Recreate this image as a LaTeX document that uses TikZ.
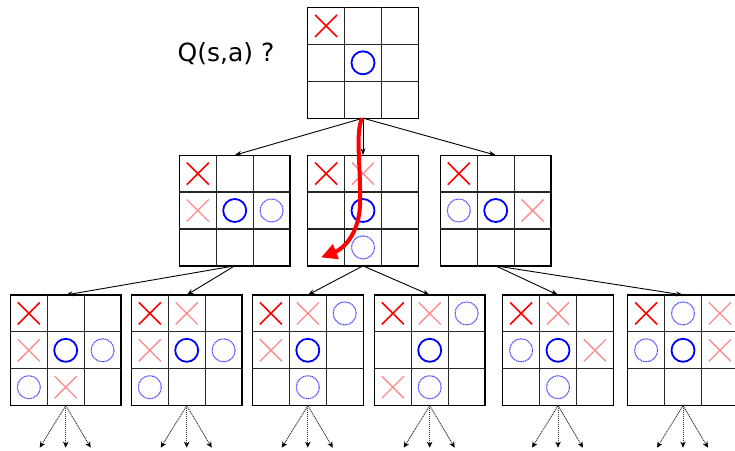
\documentclass[tikz,border=0pt]{standalone}
\usepackage{fontspec}
\setmainfont{DejaVu Sans}
\usetikzlibrary{arrows.meta,calc}
\newcommand\tttboard[3]{%
  \node[board] (#1) at (#2,#3) {};
  \draw[gridline] ($(#1.north west)!1/3!(#1.north east)$) -- ($(#1.south west)!1/3!(#1.south east)$)
                  ($(#1.north west)!2/3!(#1.north east)$) -- ($(#1.south west)!2/3!(#1.south east)$)
                  ($(#1.north west)!1/3!(#1.south west)$) -- ($(#1.north east)!1/3!(#1.south east)$)
                  ($(#1.north west)!2/3!(#1.south west)$) -- ($(#1.north east)!2/3!(#1.south east)$);
}
\newcommand\markX[4]{%
  \draw[#1] ($(#2.center)+({(#4-1)*36.9-11},{(#3-1)*36.9-11})$) -- ++(22,22)
            ($(#2.center)+({(#4-1)*36.9+11},{(#3-1)*36.9-11})$) -- ++(-22,22);}
\newcommand\markO[4]{%
  \draw[#1] ($(#2.center)+({(#4-1)*36.9},{(#3-1)*36.9})$) circle[radius=11.5pt];}
\newcommand\subarrows[1]{%
  \coordinate (#1l) at ($(#1.south)+(-26,42)$);
  \coordinate (#1m) at ($(#1.south)+(0,42)$);
  \coordinate (#1r) at ($(#1.south)+(25,42)$);
  \draw[subarrow] (#1.south) -- (#1l);
  \draw[subarrow] (#1.south) -- (#1m);
  \draw[subarrow] (#1.south) -- (#1r);}
\begin{document}
\begin{tikzpicture}[x=1pt,y=-1pt,
  board/.style={draw=black,line width=1.3pt,minimum size=110.7pt,inner sep=0pt,outer sep=0pt},
  gridline/.style={draw=black!85,line width=1.2pt},
  treearrow/.style={draw=black,line width=0.9pt,-{Stealth[length=7pt,width=5pt]}},
  subarrow/.style={draw=black!80,line width=0.9pt,dash pattern=on 1.2pt off 0.8pt,-{Stealth[length=6pt,width=5.5pt,black]}},
  xs/.style={draw=red,line width=1.6pt},
  xf/.style={draw=red!45,line width=1.3pt},
  os/.style={draw=blue,line width=1.8pt},
  od/.style={draw=blue!70,line width=1.1pt,dash pattern=on 1.2pt off 0.6pt},
  redarrow/.style={draw=red,line width=4pt,-{Triangle[length=16pt,width=15pt]}},
  qlabel/.style={font=\fontsize{25}{30}\selectfont,inner sep=0pt}
]
\useasboundingbox (0,0) rectangle (735,450);
\clip (0,0) rectangle (735,450);
\fill[white] (0,0) rectangle (735,450);

\node[qlabel] (q) at (226,54) {Q(s,a) ?};

% top board
\tttboard{top}{363}{62.8}
\markX{xs}{top}{0}{0}
\markO{os}{top}{1}{1}

% middle row
\tttboard{ma}{234.7}{210.5}
\tttboard{mb}{363}{210.5}
\tttboard{mc}{495.7}{210.5}
\markX{xs}{ma}{0}{0}\markX{xf}{ma}{1}{0}\markO{os}{ma}{1}{1}\markO{od}{ma}{1}{2}
\markX{xs}{mb}{0}{0}\markX{xf}{mb}{0}{1}\markO{os}{mb}{1}{1}\markO{od}{mb}{2}{1}
\markX{xs}{mc}{0}{0}\markO{od}{mc}{1}{0}\markO{os}{mc}{1}{1}\markX{xf}{mc}{1}{2}

% bottom row
\tttboard{ba}{65.7}{350.3}
\tttboard{bb}{186.7}{350.3}
\tttboard{bc}{307.8}{350.3}
\tttboard{bd}{429.7}{350.3}
\tttboard{be}{558}{350.3}
\tttboard{bf}{683}{350.3}
\markX{xs}{ba}{0}{0}\markX{xf}{ba}{1}{0}\markO{os}{ba}{1}{1}\markO{od}{ba}{1}{2}\markO{od}{ba}{2}{0}\markX{xf}{ba}{2}{1}
\markX{xs}{bb}{0}{0}\markX{xf}{bb}{0}{1}\markX{xf}{bb}{1}{0}\markO{os}{bb}{1}{1}\markO{od}{bb}{1}{2}\markO{od}{bb}{2}{0}
\markX{xs}{bc}{0}{0}\markX{xf}{bc}{0}{1}\markO{od}{bc}{0}{2}\markX{xf}{bc}{1}{0}\markO{os}{bc}{1}{1}\markO{od}{bc}{2}{1}
\markX{xs}{bd}{0}{0}\markX{xf}{bd}{0}{1}\markO{od}{bd}{0}{2}\markO{os}{bd}{1}{1}\markX{xf}{bd}{2}{0}\markO{od}{bd}{2}{1}
\markX{xs}{be}{0}{0}\markX{xf}{be}{0}{1}\markO{od}{be}{1}{0}\markO{os}{be}{1}{1}\markX{xf}{be}{1}{2}\markO{od}{be}{2}{1}
\markX{xs}{bf}{0}{0}\markO{od}{bf}{0}{1}\markX{xf}{bf}{0}{2}\markO{od}{bf}{1}{0}\markO{os}{bf}{1}{1}\markX{xf}{bf}{1}{2}

% tree arrows
\draw[treearrow] (top.south) -- (ma.north);
\draw[treearrow] (top.south) -- (mb.north);
\draw[treearrow] (top.south) -- (mc.north);
\draw[treearrow] (ma.south) -- (ba.north);
\draw[treearrow] (ma.south) -- (bb.north);
\draw[treearrow] (mb.south) -- (bc.north);
\draw[treearrow] (mb.south) -- (bd.north);
\draw[treearrow] (mc.south) -- (be.north);
\draw[treearrow] (mc.south) -- (bf.north);

% dotted sub arrows
\subarrows{ba}\subarrows{bb}\subarrows{bc}\subarrows{bd}\subarrows{be}\subarrows{bf}

% red path
\coordinate (redend) at (321,257.5);
\draw[redarrow] ($(top.south)+(-1,0)$) .. controls (355,135) and (361,165) .. (360,205)
                 .. controls (359,232) and (345,248) .. (redend);
\end{tikzpicture}
\end{document}
